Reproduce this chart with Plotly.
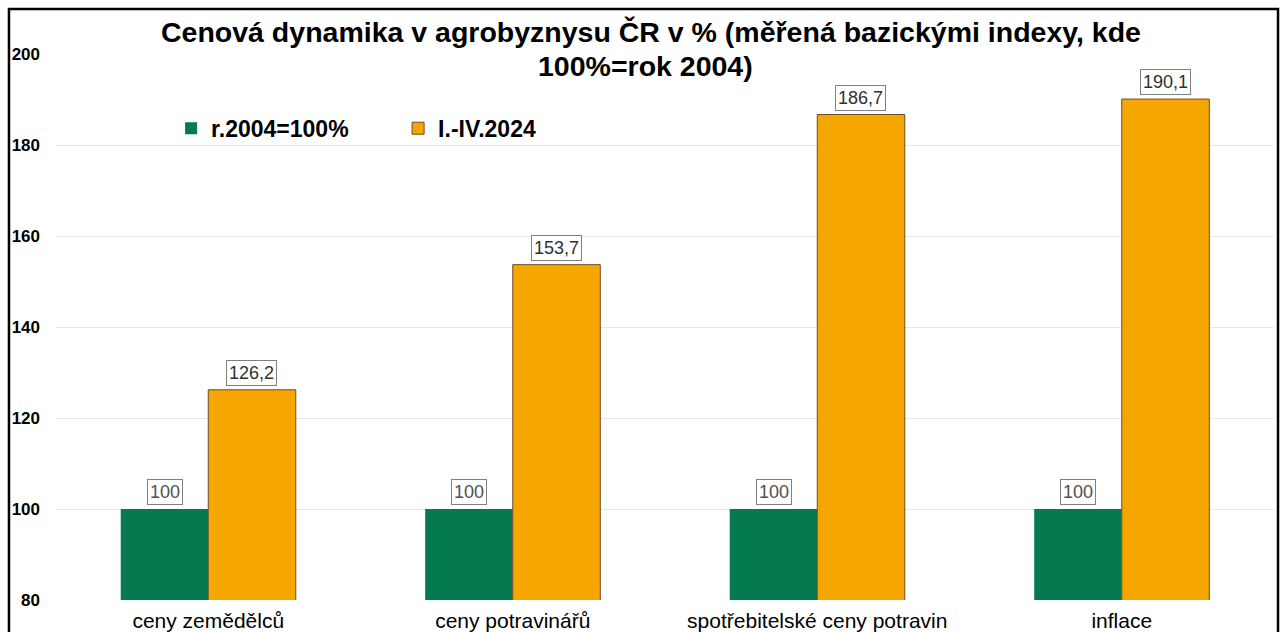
import plotly.graph_objects as go

categories = ["ceny zemědělců", "ceny potravinářů", "spotřebitelské ceny potravin", "inflace"]
base_2004 = [100, 100, 100, 100]
period_2024 = [126.2, 153.7, 186.7, 190.1]
series_names = ["r.2004=100%", "I.-IV.2024"]
y_ticks = [80, 100, 120, 140, 160, 180, 200]
title_line1 = "Cenová dynamika v agrobyznysu ČR v % (měřená bazickými indexy, kde"
title_line2 = "100%=rok 2004)"

GREEN = "#067a4f"
ORANGE = "#f5a700"
FONT = "Liberation Sans, Arial, sans-serif"

def fmt(v):
    s = f"{v:.1f}" if v != int(v) else f"{int(v)}"
    return s.replace(".", ",")

fig = go.Figure()
fig.add_trace(go.Bar(x=categories, y=base_2004, name=series_names[0],
                     marker=dict(color=GREEN, line=dict(width=0))))
fig.add_trace(go.Bar(x=categories, y=period_2024, name=series_names[1],
                     marker=dict(color=ORANGE, line=dict(color="#6e4a2a", width=1))))

annotations = []
for cat, v in zip(categories, base_2004):
    annotations.append(dict(x=cat, y=v, xref="x", yref="y", text=fmt(v), showarrow=False,
                            xshift=-43.5, yshift=4, yanchor="bottom",
                            font=dict(family=FONT, size=18, color="#505050"),
                            bordercolor="#808080", borderwidth=1, borderpad=2, bgcolor="white"))
for cat, v in zip(categories, period_2024):
    annotations.append(dict(x=cat, y=v, xref="x", yref="y", text=fmt(v), showarrow=False,
                            xshift=43.5, yshift=4, yanchor="bottom",
                            font=dict(family=FONT, size=18, color="#303030"),
                            bordercolor="#808080", borderwidth=1, borderpad=2, bgcolor="white"))
annotations.append(dict(x=0.4885, y=1, xref="paper", yref="paper", text=f"<b>{title_line1}</b>",
                        showarrow=False, yanchor="middle", yshift=22,
                        font=dict(family=FONT, size=28.5, color="black")))
annotations.append(dict(x=0.4844, y=1, xref="paper", yref="paper", text=f"<b>{title_line2}</b>",
                        showarrow=False, yanchor="middle", yshift=-12,
                        font=dict(family=FONT, size=28.5, color="black")))

fig.update_layout(
    width=1285, height=632,
    margin=dict(l=56, r=11, t=54, b=32),
    paper_bgcolor="white", plot_bgcolor="white",
    barmode="group", bargap=0.425, bargroupgap=0,
    font=dict(family=FONT, color="black"),
    showlegend=True,
    legend=dict(orientation="h", x=0.0945, y=0.864, xanchor="left", yanchor="middle",
                font=dict(family=FONT, size=23, color="black", weight="bold"),
                entrywidth=182, entrywidthmode="pixels", bgcolor="rgba(0,0,0,0)",
                traceorder="normal"),
    annotations=annotations,
    shapes=[dict(type="rect", xref="paper", yref="paper",
                 x0=-0.0386, x1=1.0033, y0=-0.3, y1=1.0824,
                 line=dict(color="black", width=2.5), fillcolor="rgba(0,0,0,0)", layer="above")],
)
fig.update_yaxes(range=[80, 200], tickvals=y_ticks, showgrid=True, gridcolor="#e6e6e6",
                 gridwidth=1, zeroline=False, showline=False, automargin=False,
                 tickfont=dict(family=FONT, size=17, color="black", weight="bold"),
                 ticklabelstandoff=15)
fig.update_xaxes(showline=False, showgrid=False, automargin=False,
                 tickfont=dict(family=FONT, size=21, color="black"),
                 ticklabelstandoff=6)

fig.write_html("out.html", config={"displayModeBar": False},
               post_script="document.body.style.margin='0';document.body.style.overflow='hidden';")
